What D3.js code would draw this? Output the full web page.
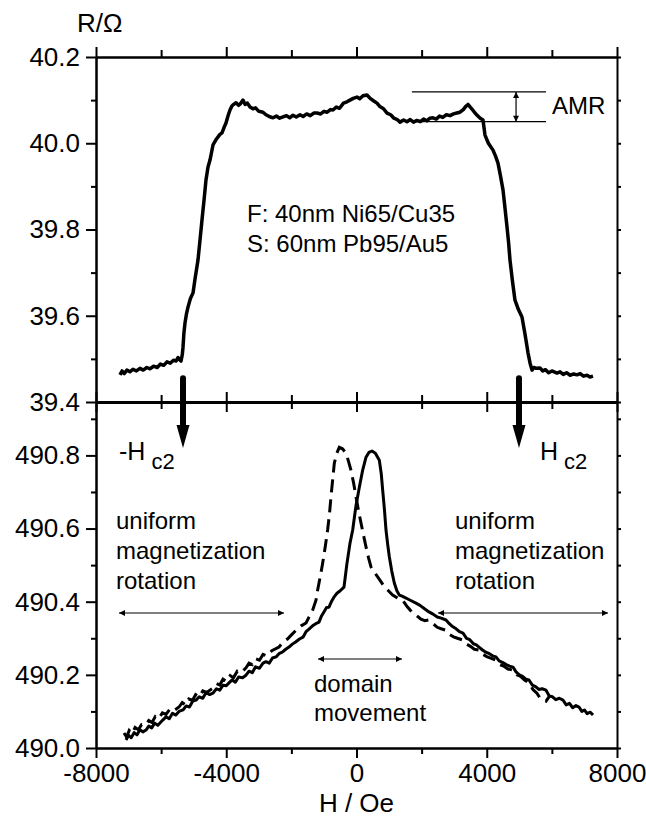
<!DOCTYPE html>
<html>
<head>
<meta charset="utf-8">
<script src="https://cdn.jsdelivr.net/npm/d3@7"></script>
<style>
  body { margin: 0; background: #fff; }
  svg text { font-family: "Liberation Sans", Arial, Helvetica, sans-serif; fill: #000; }
</style>
</head>
<body>
<svg id="chart"></svg>
<script>
// top panel: R(H) in ohm, F/S bilayer, AMR plateau
var topH = [-7263,-7200,-7130,-7050,-6960,-6864,-6760,-6650,-6550,-6440,-6342,-6230,-6120,-6020,-5920,-5820,-5720,-5620,-5540,-5482,-5420,-5390,-5350,-5328,-5300,-5267,-5220,-5175,-5100,-5021,-4950,-4868,-4800,-4745,-4680,-4622,-4560,-4499,-4407,-4300,-4200,-4131,-4060,-4008,-3940,-3885,-3830,-3793,-3700,-3620,-3560,-3486,-3420,-3350,-3271,-3180,-3100,-3000,-2872,-2780,-2680,-2564,-2460,-2360,-2257,-2150,-2050,-1950,-1850,-1735,-1640,-1530,-1420,-1313,-1213,-1100,-1000,-900,-800,-722,-620,-520,-400,-292,-200,-100,15,100,200,322,420,530,630,720,830,937,1050,1150,1250,1336,1450,1550,1650,1750,1858,1960,2060,2160,2249,2349,2450,2550,2650,2760,2871,2980,3080,3178,3280,3350,3424,3500,3580,3639,3720,3800,3885,3946,4050,4192,4270,4345,4420,4499,4560,4622,4670,4714,4790,4867,4970,5082,5180,5267,5330,5390,5450,5520,5635,5720,5800,5900,6000,6157,6250,6350,6450,6560,6670,6772,6870,6970,7080,7170,7263]
var topR = [39.463,39.472,39.466,39.474,39.470,39.476,39.472,39.478,39.474,39.480,39.477,39.483,39.480,39.488,39.485,39.493,39.490,39.497,39.495,39.503,39.497,39.495,39.510,39.527,39.560,39.583,39.605,39.620,39.640,39.653,39.690,39.729,39.780,39.822,39.870,39.915,39.945,39.961,39.996,40.010,40.020,40.024,40.038,40.047,40.065,40.077,40.086,40.089,40.094,40.088,40.092,40.100,40.090,40.093,40.084,40.080,40.082,40.074,40.072,40.066,40.062,40.059,40.063,40.058,40.061,40.064,40.059,40.065,40.061,40.066,40.062,40.068,40.064,40.070,40.070,40.068,40.074,40.072,40.078,40.077,40.084,40.081,40.093,40.096,40.100,40.104,40.107,40.103,40.110,40.112,40.104,40.098,40.093,40.085,40.080,40.070,40.066,40.058,40.055,40.049,40.054,40.050,40.055,40.049,40.053,40.050,40.056,40.052,40.058,40.059,40.056,40.063,40.060,40.066,40.064,40.068,40.070,40.072,40.078,40.085,40.090,40.083,40.076,40.070,40.064,40.058,40.054,40.019,40.000,39.984,39.970,39.954,39.925,39.892,39.850,39.806,39.770,39.729,39.680,39.636,39.615,39.597,39.555,39.514,39.490,39.474,39.480,39.478,39.479,39.472,39.475,39.468,39.472,39.467,39.470,39.464,39.468,39.462,39.465,39.463,39.466,39.460,39.462,39.458,39.460]

// bottom panel: R(H) of the S/F interface, solid and dashed sweeps
var solidH = [-7079,-7000,-6920,-6830,-6740,-6650,-6560,-6464,-6380,-6290,-6200,-6100,-5942,-5850,-5750,-5650,-5550,-5451,-5328,-5230,-5130,-5030,-4929,-4830,-4720,-4620,-4510,-4407,-4300,-4200,-4100,-4000,-3916,-3820,-3720,-3620,-3500,-3393,-3300,-3200,-3100,-2980,-2872,-2780,-2680,-2580,-2472,-2380,-2280,-2173,-2073,-1970,-1870,-1750,-1643,-1550,-1450,-1350,-1250,-1152,-1080,-1000,-920,-845,-760,-680,-600,-500,-384,-300,-200,-117,-20,87,190,292,380,476,580,701,760,804,860,906,960,1008,1080,1161,1240,1315,1400,1520,1650,1827,1950,2100,2226,2350,2480,2600,2749,2850,2950,3060,3160,3271,3380,3480,3590,3680,3762,3870,3970,4080,4180,4284,4380,4480,4600,4700,4806,4900,5000,5100,5200,5297,5400,5500,5600,5700,5820,5920,6020,6120,6230,6342,6440,6540,6640,6740,6833,6920,7000,7080,7180,7263]
var solidR = [490.022,490.035,490.028,490.042,490.036,490.050,490.044,490.049,490.060,490.055,490.068,490.062,490.077,490.085,490.080,490.095,490.090,490.100,490.104,490.115,490.112,490.128,490.131,490.140,490.136,490.152,490.146,490.150,490.162,490.158,490.172,490.170,490.178,490.186,490.180,490.194,490.192,490.199,490.210,490.206,490.222,490.218,490.232,490.236,490.232,490.246,490.249,490.258,490.262,490.270,490.276,490.284,490.290,490.298,490.303,490.318,490.326,490.334,490.340,490.344,490.360,490.372,490.384,490.385,490.402,490.414,490.423,490.430,490.440,490.500,490.560,490.596,490.660,490.713,490.760,490.795,490.808,490.812,490.806,490.787,490.750,490.705,490.650,490.596,490.555,490.523,490.485,490.451,490.430,490.418,490.415,490.410,490.404,490.396,490.390,490.380,490.372,490.366,490.358,490.355,490.350,490.340,490.332,490.326,490.318,490.314,490.300,490.296,490.285,490.282,490.276,490.268,490.262,490.258,490.252,490.249,490.238,490.234,490.228,490.224,490.221,490.208,490.200,490.196,490.188,490.186,490.172,490.168,490.160,490.162,490.158,490.142,490.140,490.132,490.136,490.131,490.118,490.122,490.110,490.116,490.112,490.100,490.104,490.094,490.098,490.090]

var dashH = [-7140,-7060,-6980,-6890,-6800,-6700,-6600,-6464,-6380,-6280,-6180,-6080,-5960,-5850,-5740,-5640,-5451,-5350,-5250,-5150,-5040,-4940,-4830,-4720,-4600,-4407,-4300,-4200,-4100,-4000,-3880,-3780,-3660,-3550,-3393,-3300,-3200,-3100,-2980,-2870,-2760,-2600,-2380,-2250,-2120,-1990,-1858,-1700,-1550,-1459,-1347,-1244,-1193,-1110,-1040,-960,-887,-830,-784,-730,-682,-610,-528,-430,-323,-250,-170,-90,-16,60,138,215,292,370,445,550,650,750,855,980,1110,1260,1418,1560,1725,1850,1980,2100,2226,2350,2480,2600,2749,2860,2980,3100,3271,3380,3500,3620,3762,3880,4000,4120,4284,4400,4520,4650,4806,4920,5040,5160,5297,5420,5540,5640,5727,5820,5912]
var dashR = [490.041,490.030,490.048,490.040,490.056,490.050,490.064,490.063,490.075,490.070,490.086,490.080,490.096,490.092,490.105,490.100,490.112,490.124,490.118,490.134,490.130,490.146,490.140,490.156,490.152,490.164,490.176,490.172,490.188,490.182,490.198,490.192,490.210,490.206,490.219,490.232,490.228,490.244,490.240,490.256,490.252,490.266,490.276,490.290,490.298,490.310,490.322,490.334,490.342,490.358,490.377,490.404,490.432,490.470,490.505,490.550,490.596,490.640,490.687,490.735,490.778,490.805,490.822,490.818,490.806,490.785,490.760,490.725,490.687,490.650,490.615,490.582,490.550,490.520,490.495,490.480,490.468,490.455,490.441,490.430,490.418,490.410,490.404,490.386,490.369,490.362,490.352,490.348,490.350,490.340,490.330,490.326,490.322,490.310,490.304,490.300,490.295,490.284,490.278,490.270,490.268,490.256,490.250,490.246,490.240,490.228,490.224,490.216,490.213,490.200,490.196,490.186,490.178,490.160,490.150,490.136,490.131,490.128,490.140]

var xTicks = [-8000, -4000, 0, 4000, 8000]
var xMinor = [-6000, -2000, 2000, 6000]
var topTicks = [39.4, 39.6, 39.8, 40.0, 40.2]
var topMinor = [39.5, 39.7, 39.9, 40.1]
var botTicks = [490.0, 490.2, 490.4, 490.6, 490.8]
var botMinor = [490.1, 490.3, 490.5, 490.7, 490.9]

var hc2 = [-5328, 4990]

var width = 646, height = 819
var svg = d3.select("#chart").attr("width", width).attr("height", height)

var x = d3.scaleLinear().domain([-8000, 8000]).range([96, 617])
var yTop = d3.scaleLinear().domain([39.4, 40.2]).range([402, 57])
var yBot = d3.scaleLinear().domain([490.0, 490.946]).range([748, 402])

var fmt = d3.format(".1f")
var fmtX = function(d) { return String(d) }   // plain hyphen, like the original

function styleAxis(g, fs) {
  g.selectAll("path").attr("stroke", "#000").attr("stroke-width", 2)
  g.selectAll("line").attr("stroke", "#000").attr("stroke-width", 2)
  g.selectAll("text").attr("font-size", fs || 26).attr("fill", "#000")
  g.attr("font-family", null)
}

// left axes
svg.append("g").attr("transform", "translate(96,0)")
  .call(d3.axisLeft(yTop).tickValues(topTicks).tickSize(10).tickPadding(6).tickSizeOuter(0).tickFormat(fmt))
  .call(styleAxis)
svg.append("g").attr("transform", "translate(96,0)")
  .call(d3.axisLeft(yTop).tickValues(topMinor).tickSize(5).tickSizeOuter(0).tickFormat(""))
  .call(styleAxis)
svg.append("g").attr("transform", "translate(96,0)")
  .call(d3.axisLeft(yBot).tickValues(botTicks).tickSize(10).tickPadding(6).tickSizeOuter(0).tickFormat(fmt))
  .call(styleAxis)
svg.append("g").attr("transform", "translate(96,0)")
  .call(d3.axisLeft(yBot).tickValues(botMinor).tickSize(5).tickSizeOuter(0).tickFormat(""))
  .call(styleAxis)

// right axes
svg.append("g").attr("transform", "translate(617,0)")
  .call(d3.axisRight(yTop).tickValues(topTicks.concat(topMinor)).tickSize(4).tickSizeOuter(0).tickFormat(""))
  .call(styleAxis)
svg.append("g").attr("transform", "translate(617,0)")
  .call(d3.axisRight(yBot).tickValues(botTicks.concat(botMinor)).tickSize(4).tickSizeOuter(0).tickFormat(""))
  .call(styleAxis)

// top frame
svg.append("g").attr("transform", "translate(0,57)")
  .call(d3.axisTop(x).tickValues(xTicks).tickSize(10).tickSizeOuter(0).tickFormat(""))
  .call(styleAxis)
svg.append("g").attr("transform", "translate(0,57)")
  .call(d3.axisTop(x).tickValues(xMinor).tickSize(7).tickSizeOuter(0).tickFormat(""))
  .call(styleAxis)

// middle shared axis, ticks crossing
var mid = svg.append("g").attr("transform", "translate(0,402)")
mid.append("g").call(d3.axisTop(x).tickValues(xTicks).tickSize(10).tickSizeOuter(0).tickFormat("")).call(styleAxis)
mid.append("g").call(d3.axisBottom(x).tickValues(xTicks).tickSize(10).tickSizeOuter(0).tickFormat("")).call(styleAxis)
mid.append("g").call(d3.axisTop(x).tickValues(xMinor).tickSize(7).tickSizeOuter(0).tickFormat("")).call(styleAxis)
mid.append("g").call(d3.axisBottom(x).tickValues(xMinor).tickSize(7).tickSizeOuter(0).tickFormat("")).call(styleAxis)
mid.selectAll("path").attr("stroke-width", 3)

// bottom axis
svg.append("g").attr("transform", "translate(0,748)")
  .call(d3.axisBottom(x).tickValues(xTicks).tickSize(10).tickPadding(6).tickSizeOuter(0).tickFormat(fmtX))
  .call(styleAxis)
svg.append("g").attr("transform", "translate(0,748)")
  .call(d3.axisBottom(x).tickValues(xMinor).tickSize(6).tickSizeOuter(0).tickFormat(""))
  .call(styleAxis)

// axis titles
svg.append("text").attr("x", 77).attr("y", 32).attr("font-size", 26).text("R/Ω")
svg.append("text").attr("x", x(0)).attr("y", 812).attr("text-anchor", "middle").attr("font-size", 26).text("H / Oe")

// curves
var topData = topH.map(function(h, i) { return [h, topR[i]] })
var solidData = solidH.map(function(h, i) { return [h, solidR[i]] })
var dashData = dashH.map(function(h, i) { return [h, dashR[i]] })

var lineTop = d3.line().x(function(d) { return x(d[0]) }).y(function(d) { return yTop(d[1]) })
var lineBot = d3.line().x(function(d) { return x(d[0]) }).y(function(d) { return yBot(d[1]) })

svg.append("path").datum(topData).attr("d", lineTop)
  .attr("fill", "none").attr("stroke", "#000").attr("stroke-width", 3.5).attr("stroke-linejoin", "round")
svg.append("path").datum(solidData).attr("d", lineBot)
  .attr("fill", "none").attr("stroke", "#000").attr("stroke-width", 3).attr("stroke-linejoin", "round")
svg.append("path").datum(dashData).attr("d", lineBot)
  .attr("fill", "none").attr("stroke", "#000").attr("stroke-width", 3).attr("stroke-dasharray", "13,7")

// arrowheads for thin annotation arrows
var defs = svg.append("defs")
defs.append("marker").attr("id", "head").attr("viewBox", "0 0 10 10")
  .attr("refX", 10).attr("refY", 5).attr("markerWidth", 10).attr("markerHeight", 6)
  .attr("markerUnits", "userSpaceOnUse").attr("orient", "auto-start-reverse")
  .append("path").attr("d", "M0,0 L10,5 L0,10 Z").attr("fill", "#000")

function dblArrow(x1, y1, x2, y2) {
  svg.append("line").attr("x1", x1).attr("y1", y1).attr("x2", x2).attr("y2", y2)
    .attr("stroke", "#000").attr("stroke-width", 1.2)
    .attr("marker-start", "url(#head)").attr("marker-end", "url(#head)")
}

// AMR annotation
var amrHi = 40.119, amrLo = 40.050
svg.append("line").attr("x1", x(1700)).attr("x2", x(5820)).attr("y1", yTop(amrHi)).attr("y2", yTop(amrHi)).attr("stroke", "#000").attr("stroke-width", 1.2)
svg.append("line").attr("x1", x(1700)).attr("x2", x(5820)).attr("y1", yTop(amrLo)).attr("y2", yTop(amrLo)).attr("stroke", "#000").attr("stroke-width", 1.2)
dblArrow(x(4900), yTop(amrHi), x(4900), yTop(amrLo))
svg.append("text").attr("x", 552).attr("y", 114).attr("font-size", 24).text("AMR")

svg.append("text").attr("x", 247).attr("y", 222).attr("font-size", 24).text("F: 40nm Ni65/Cu35")
svg.append("text").attr("x", 247).attr("y", 252).attr("font-size", 24).text("S: 60nm Pb95/Au5")

// thick Hc2 arrows crossing the middle axis
hc2.forEach(function(h) {
  var cx = x(h), y0 = yTop(39.455), tip = yBot(490.82)
  svg.append("line").attr("x1", cx).attr("x2", cx).attr("y1", y0).attr("y2", tip - 20)
    .attr("stroke", "#000").attr("stroke-width", 6).attr("stroke-linecap", "round")
  svg.append("path").attr("d", "M" + (cx - 6.5) + "," + (tip - 23) + " L" + (cx + 6.5) + "," + (tip - 23) + " L" + cx + "," + tip + " Z")
    .attr("fill", "#000")
})

var lbl1 = svg.append("text").attr("x", 119).attr("y", 460).attr("font-size", 25)
lbl1.append("tspan").text("-H")
lbl1.append("tspan").attr("dx", 6).attr("dy", 9).attr("font-size", 22).text("c2")
var lbl2 = svg.append("text").attr("x", 540).attr("y", 460).attr("font-size", 25)
lbl2.append("tspan").text("H")
lbl2.append("tspan").attr("dx", 6).attr("dy", 9).attr("font-size", 22).text("c2")

// regime labels
var regimeLines = ["uniform", "magnetization", "rotation"]
regimeLines.forEach(function(t, i) {
  svg.append("text").attr("x", 116).attr("y", 529 + i * 30).attr("font-size", 24).text(t)
  svg.append("text").attr("x", 455).attr("y", 529 + i * 30).attr("font-size", 24).text(t)
})
dblArrow(119, 613, 284, 613)
dblArrow(438, 613, 608, 613)
dblArrow(318, 659, 402, 659)
svg.append("text").attr("x", 314).attr("y", 692).attr("font-size", 24).text("domain")
svg.append("text").attr("x", 314).attr("y", 721).attr("font-size", 24).text("movement")
</script>
</body>
</html>
